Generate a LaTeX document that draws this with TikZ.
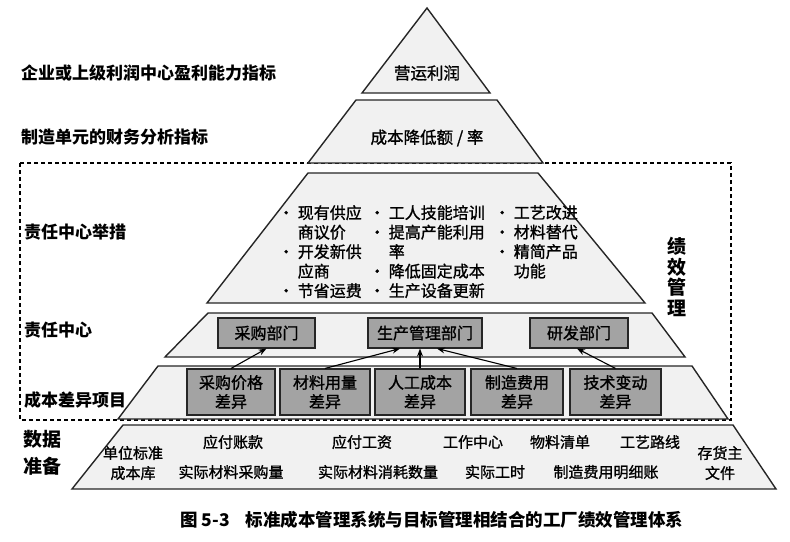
\documentclass[tikz,border=0pt]{standalone}
\usepackage{fontspec}
\newfontfamily\cjk{Noto Sans CJK SC}
\newfontfamily\cjkm{Noto Sans CJK SC}[FakeBold=1.2]
\usetikzlibrary{arrows.meta,calc}
\definecolor{tierfill}{HTML}{F1F1F1}
\definecolor{boxfill}{HTML}{A3A3A3}
\begin{document}
\begin{tikzpicture}[x=1pt,y=-1pt,
  every node/.style={font=\cjk, inner sep=0pt},
  tier/.style={draw=black!85, fill=tierfill, line width=1.4pt, line join=miter},
  gbox/.style={draw=black!85, fill=boxfill, line width=1.1pt, align=center,
    font=\cjkm\fontsize{16}{19}\selectfont},
  lbl/.style={anchor=west, font=\cjk\bfseries\fontsize{17}{20}\selectfont},
  tiertxt/.style={font=\cjkm\fontsize{16.5}{20}\selectfont},
  bull/.style={anchor=north west, align=left, font=\cjkm\fontsize{16}{19.5}\selectfont},
  datatxt/.style={align=center, font=\cjkm\fontsize{15}{20}\selectfont},
  conn/.style={line width=1.1pt, -{Stealth[length=8pt,width=6pt]}},
  frame/.style={line width=1.1pt, dash pattern=on 4pt off 3pt}
]
\useasboundingbox (0,0) rectangle (790,541);
\fill[white] (0,0) rectangle (790,541);

% dashed frame (performance management)
\draw[frame] (20,163) rectangle (731,420);

% tiers
\draw[tier] (427,8) -- (490,93) -- (362,93) -- cycle;
\draw[tier] (356,100) -- (497,100) -- (543,163) -- (308,163) -- cycle;
\draw[tier] (308,173) -- (538,173) -- (645,303) -- (207,303) -- cycle;
\draw[tier] (208,313) -- (652,313) -- (685,357) -- (165,357) -- cycle;
\draw[tier] (158,366) -- (692,366) -- (728,419) -- (118,419) -- cycle;
\draw[tier] (123,425) -- (733,425) -- (776,489) -- (72,489) -- cycle;

% tier texts
\node[tiertxt] (t1) at (427,73) {营运利润};
\node[tiertxt] (t2) at (427,138) {成本降低额 / 率};

\node[bull] (m1) at (278,205) {• 现有供应\\\hphantom{• }商议价\\• 开发新供\\\hphantom{• }应商\\• 节省运费};
\node[bull] (m2) at (369,205) {• 工人技能培训\\• 提高产能利用\\\hphantom{• }率\\• 降低固定成本\\• 生产设备更新};
\node[bull] (m3) at (494,205) {• 工艺改进\\• 材料替代\\• 精简产品\\\hphantom{• }功能};

% responsibility centres
\node[gbox, minimum width=97pt, minimum height=30pt] (d1) at (266.5,333) {采购部门};
\node[gbox, minimum width=114pt, minimum height=30pt] (d2) at (425,333) {生产管理部门};
\node[gbox, minimum width=98pt, minimum height=30pt] (d3) at (579,333) {研发部门};

% variance items
\node[gbox, minimum width=88pt, minimum height=46pt] (v1) at (231,392) {采购价格\\差异};
\node[gbox, minimum width=90pt, minimum height=46pt] (v2) at (325,392) {材料用量\\差异};
\node[gbox, minimum width=90pt, minimum height=46pt] (v3) at (420,392) {人工成本\\差异};
\node[gbox, minimum width=92pt, minimum height=46pt] (v4) at (517,392) {制造费用\\差异};
\node[gbox, minimum width=91pt, minimum height=46pt] (v5) at (615.5,392) {技术变动\\差异};

% connectors
\draw[conn] (v1.north) -- (d1.south);
\draw[conn] (v2.north) -- ($(d2.south)+(-25,0)$);
\draw[conn] (v3.north) -- (v3.north |- d2.south);
\draw[conn] (v4.north) -- ($(d2.south)+(12,0)$);
\draw[conn] (v5.north) -- ($(d3.south)+(-2,0)$);

% data preparation
\node[datatxt] (p1) at (133,463) {单位标准\\成本库};
\node[datatxt] (p2) at (233,442) {应付账款};
\node[datatxt] (p3) at (231,472) {实际材料采购量};
\node[datatxt] (p4) at (362,442) {应付工资};
\node[datatxt] (p5) at (378,472) {实际材料消耗数量};
\node[datatxt] (p6) at (473,442) {工作中心};
\node[datatxt] (p7) at (495,472) {实际工时};
\node[datatxt] (p8) at (560,442) {物料清单};
\node[datatxt] (p9) at (606,472) {制造费用明细账};
\node[datatxt] (p10) at (650,442) {工艺路线};
\node[datatxt] (p11) at (720,463) {存货主\\文件};

% left labels
\node[lbl] (l1) at (21,73) {企业或上级利润中心盈利能力指标};
\node[lbl] (l2) at (21,137) {制造单元的财务分析指标};
\node[lbl] (l3) at (24,232) {责任中心举措};
\node[lbl] (l4) at (24,330) {责任中心};
\node[lbl] (l5) at (24,400) {成本差异项目};
\node[anchor=west, align=left, font=\cjk\bfseries\fontsize{19}{27}\selectfont] (l6) at (23,453) {数据\\准备};
\node[align=center, font=\cjk\bfseries\fontsize{19}{20.5}\selectfont] (l7) at (677,277) {绩\\效\\管\\理};

% caption
\node[anchor=west, font=\cjk\bfseries\fontsize{17.5}{20}\selectfont] (cap) at (180,520) {图 5-3\hspace{16pt}标准成本管理系统与目标管理相结合的工厂绩效管理体系};
\end{tikzpicture}
\end{document}
